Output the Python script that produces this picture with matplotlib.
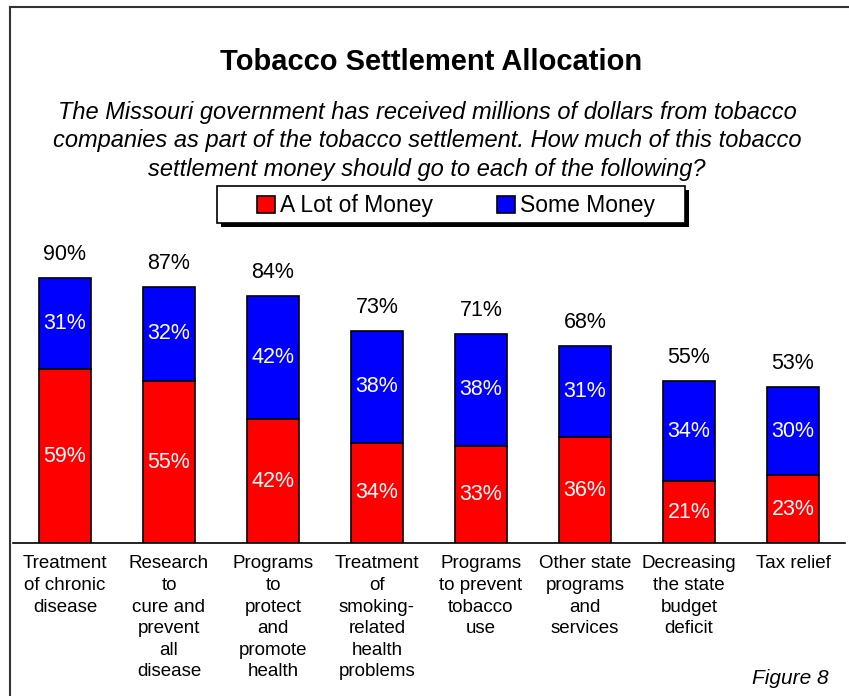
import matplotlib.pyplot as plt
from matplotlib.lines import Line2D
from matplotlib.patches import Rectangle

plt.rcParams['font.family'] = ['Liberation Sans', 'DejaVu Sans']

categories = [
    'Treatment\nof chronic\ndisease',
    'Research\nto\ncure and\nprevent\nall\ndisease',
    'Programs\nto\nprotect\nand\npromote\nhealth',
    'Treatment\nof\nsmoking-\nrelated\nhealth\nproblems',
    'Programs\nto prevent\ntobacco\nuse',
    'Other state\nprograms\nand\nservices',
    'Decreasing\nthe state\nbudget\ndeficit',
    'Tax relief',
]
a_lot = [59, 55, 42, 34, 33, 36, 21, 23]
some = [31, 32, 42, 38, 38, 31, 34, 30]
totals = [90, 87, 84, 73, 71, 68, 55, 53]

red = '#ff0000'
blue = '#0000ff'

W, H = 849, 696
fig = plt.figure(figsize=(8.49, 6.96), dpi=100)
ax = fig.add_axes([13 / W, 1 - 543 / H, 832 / W, 294.4 / H])

x = list(range(len(categories)))
b1 = ax.bar(x, a_lot, width=0.5, color=red, edgecolor='black', linewidth=1.2)
b2 = ax.bar(x, some, width=0.5, bottom=a_lot, color=blue, edgecolor='black', linewidth=1.2)

for i in x:
    ax.text(i, a_lot[i] / 2, f'{a_lot[i]}%', ha='center', va='center',
            color='white', fontsize=15.5)
    ax.text(i, a_lot[i] + some[i] / 2, f'{some[i]}%', ha='center', va='center',
            color='white', fontsize=15.5)
    ax.text(i, a_lot[i] + some[i] + 8, f'{totals[i]}%', ha='center', va='center',
            color='black', fontsize=15.5)

ax.set_xlim(-0.5, 7.5)
ax.set_ylim(0, 100)
ax.set_yticks([])
ax.set_xticks(x)
ax.set_xticklabels(categories, fontsize=13.5, multialignment='center', linespacing=1.35)
ax.tick_params(axis='x', length=0, pad=9)
for s in ['top', 'right', 'left']:
    ax.spines[s].set_visible(False)
ax.spines['bottom'].set_linewidth(1.2)

fig.text(431 / W, 1 - 62 / H, 'Tobacco Settlement Allocation', ha='center', va='center',
         fontsize=21, fontweight='bold')
fig.text(427 / W, 1 - 141 / H,
         'The Missouri government has received millions of dollars from tobacco\n'
         'companies as part of the tobacco settlement. How much of this tobacco\n'
         'settlement money should go to each of the following?',
         ha='center', va='center', fontsize=17, style='italic', linespacing=1.3)

# legend box with a hard black shadow
bx0, by0, bx1, by1 = 217, 186, 685, 223
fig.add_artist(Rectangle((bx0 / W + 4 / W, 1 - (by1 + 4) / H), (bx1 - bx0) / W, (by1 - by0) / H,
                         transform=fig.transFigure, facecolor='black', edgecolor='none'))
fig.add_artist(Rectangle((bx0 / W, 1 - by1 / H), (bx1 - bx0) / W, (by1 - by0) / H,
                         transform=fig.transFigure, facecolor='white', edgecolor='black',
                         linewidth=1.2))
leg = fig.legend([b1, b2], ['A Lot of Money', 'Some Money'], loc='center',
                 bbox_to_anchor=(456 / W, 1 - 206 / H), ncol=2, fontsize=16.5,
                 frameon=False, handlelength=0.8, handleheight=0.8, columnspacing=2.8,
                 handletextpad=0.2, borderpad=0.2, borderaxespad=0)

fig.text(829 / W, 1 - 678 / H, 'Figure 8', ha='right', va='center',
         fontsize=15, style='italic')

fig.add_artist(Line2D([10 / W, 10 / W], [0, 1 - 7 / H], transform=fig.transFigure,
                      color='#333333', linewidth=1.5))
fig.add_artist(Line2D([10 / W, 1], [1 - 7 / H, 1 - 7 / H], transform=fig.transFigure,
                      color='#333333', linewidth=1.5))

fig.savefig('out.png', dpi=100)
